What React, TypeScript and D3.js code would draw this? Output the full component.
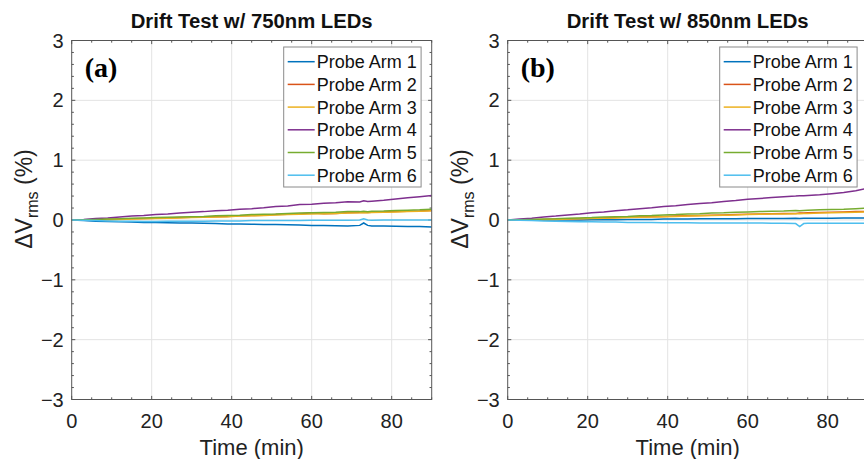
import { useEffect, useRef } from "react";
import * as d3 from "d3";

const times = [0, 3, 6, 9, 12, 15, 18, 21, 24, 27, 30, 33, 36, 39, 42, 45, 48, 51, 54, 57, 60, 63, 66, 69, 72, 73, 74, 75, 78, 81, 84, 87, 90];

const seriesNames = ["Probe Arm 1", "Probe Arm 2", "Probe Arm 3", "Probe Arm 4", "Probe Arm 5", "Probe Arm 6"];
const seriesColors = ["#0072BD", "#D95319", "#EDB120", "#7E2F8E", "#77AC30", "#4DBEEE"];

// 750nm LEDs
const arm1_750 = [0, -0.01, -0.02, -0.025, -0.03, -0.035, -0.04, -0.04, -0.045, -0.05, -0.05, -0.055, -0.06, -0.065, -0.065, -0.07, -0.075, -0.075, -0.08, -0.085, -0.09, -0.09, -0.095, -0.1, -0.09, -0.05, -0.09, -0.1, -0.1, -0.105, -0.11, -0.11, -0.115];
const arm2_750 = [0, 0, 0.005, 0.01, 0.015, 0.02, 0.025, 0.03, 0.035, 0.04, 0.045, 0.05, 0.055, 0.06, 0.07, 0.075, 0.08, 0.09, 0.095, 0.1, 0.12, 0.105, 0.11, 0.12, 0.125, 0.13, 0.125, 0.13, 0.135, 0.14, 0.145, 0.15, 0.16];
const arm3_750 = [0, 0, 0, 0.005, 0.01, 0.015, 0.02, 0.025, 0.03, 0.035, 0.04, 0.045, 0.05, 0.055, 0.065, 0.07, 0.075, 0.085, 0.09, 0.095, 0.1, 0.105, 0.11, 0.115, 0.12, 0.125, 0.12, 0.125, 0.13, 0.135, 0.14, 0.145, 0.155];
const arm4_750 = [0, 0.01, 0.025, 0.035, 0.05, 0.065, 0.075, 0.09, 0.1, 0.115, 0.13, 0.14, 0.155, 0.165, 0.18, 0.19, 0.205, 0.225, 0.235, 0.26, 0.265, 0.28, 0.29, 0.305, 0.3, 0.32, 0.31, 0.315, 0.33, 0.35, 0.37, 0.39, 0.41];
const arm5_750 = [0, 0.005, 0.01, 0.015, 0.02, 0.03, 0.035, 0.04, 0.045, 0.05, 0.055, 0.06, 0.07, 0.075, 0.08, 0.09, 0.095, 0.1, 0.11, 0.115, 0.12, 0.125, 0.13, 0.14, 0.14, 0.145, 0.14, 0.145, 0.15, 0.16, 0.165, 0.17, 0.18];
const arm6_750 = [0, -0.005, -0.01, -0.015, -0.02, -0.02, -0.025, -0.025, -0.02, -0.02, -0.02, -0.02, -0.015, -0.015, -0.015, -0.01, -0.01, -0.01, -0.01, -0.01, -0.005, -0.005, -0.005, -0.005, 0, 0.02, 0, -0.005, 0, 0, 0, 0, 0];

// 850nm LEDs
const arm1_850 = [0, 0, -0.005, -0.005, 0, 0, 0, 0.005, 0.005, 0.005, 0.01, 0.01, 0.01, 0.015, 0.015, 0.015, 0.02, 0.02, 0.02, 0.02, 0.025, 0.025, 0.025, 0.025, 0.03, 0.025, 0.03, 0.03, 0.03, 0.03, 0.035, 0.035, 0.035];
const arm2_850 = [0, 0, 0.005, 0.01, 0.015, 0.02, 0.025, 0.03, 0.035, 0.04, 0.045, 0.05, 0.055, 0.06, 0.065, 0.07, 0.075, 0.08, 0.085, 0.09, 0.095, 0.1, 0.105, 0.11, 0.11, 0.115, 0.115, 0.12, 0.125, 0.13, 0.135, 0.14, 0.145];
const arm3_850 = [0, 0, 0.005, 0.005, 0.01, 0.015, 0.02, 0.025, 0.03, 0.035, 0.04, 0.045, 0.05, 0.055, 0.06, 0.065, 0.07, 0.075, 0.08, 0.085, 0.09, 0.095, 0.1, 0.1, 0.105, 0.105, 0.11, 0.11, 0.115, 0.12, 0.125, 0.13, 0.135];
const arm4_850 = [0, 0.015, 0.03, 0.05, 0.065, 0.085, 0.1, 0.12, 0.135, 0.155, 0.17, 0.19, 0.205, 0.225, 0.24, 0.26, 0.275, 0.29, 0.31, 0.325, 0.345, 0.36, 0.375, 0.39, 0.4, 0.405, 0.405, 0.41, 0.42, 0.44, 0.46, 0.49, 0.53];
const arm5_850 = [0, 0.005, 0.01, 0.015, 0.02, 0.03, 0.035, 0.04, 0.05, 0.055, 0.06, 0.07, 0.075, 0.085, 0.09, 0.1, 0.105, 0.115, 0.12, 0.13, 0.135, 0.14, 0.145, 0.15, 0.16, 0.155, 0.16, 0.165, 0.17, 0.175, 0.18, 0.19, 0.2];
const arm6_850 = [0, -0.005, -0.01, -0.015, -0.02, -0.025, -0.03, -0.03, -0.035, -0.035, -0.04, -0.04, -0.04, -0.045, -0.045, -0.045, -0.05, -0.05, -0.05, -0.05, -0.05, -0.05, -0.055, -0.055, -0.06, -0.11, -0.06, -0.055, -0.055, -0.055, -0.055, -0.055, -0.055];

const xTicks = [0, 20, 40, 60, 80];
const yTicks = [-3, -2, -1, 0, 1, 2, 3];

const panels = [
  { title: "Drift Test w/ 750nm LEDs", tag: "(a)", left: 71.7, series: [arm1_750, arm2_750, arm3_750, arm4_750, arm5_750, arm6_750] },
  { title: "Drift Test w/ 850nm LEDs", tag: "(b)", left: 507.7, series: [arm1_850, arm2_850, arm3_850, arm4_850, arm5_850, arm6_850] },
];

const W = 864;
const H = 459;
const FONT = "'Liberation Sans', Arial, sans-serif";
const AXIS = "#555";

export default function App() {
  const svgRef = useRef<SVGSVGElement>(null);

  useEffect(() => {
    const svg = d3.select(svgRef.current);
    svg.selectAll("*").remove();

    const top = 40.5;
    const bottom = 399.5;
    const pw = 360;

    panels.forEach((p, pi) => {
      const x = d3.scaleLinear().domain([0, 90]).range([p.left, p.left + pw]);
      const y = d3.scaleLinear().domain([-3, 3]).range([bottom, top]);
      const g = svg.append("g");

      g.append("clipPath")
        .attr("id", "clip" + pi)
        .append("rect")
        .attr("x", p.left)
        .attr("y", top)
        .attr("width", pw)
        .attr("height", bottom - top);

      // grid
      g.selectAll(".gx")
        .data(xTicks.slice(1))
        .enter()
        .append("line")
        .attr("x1", (d) => x(d))
        .attr("x2", (d) => x(d))
        .attr("y1", top)
        .attr("y2", bottom)
        .attr("stroke", "#e3e3e3");
      g.selectAll(".gy")
        .data(yTicks.slice(1, -1))
        .enter()
        .append("line")
        .attr("x1", p.left)
        .attr("x2", p.left + pw)
        .attr("y1", (d) => y(d))
        .attr("y2", (d) => y(d))
        .attr("stroke", "#e3e3e3");

      // ticks (inside, all four sides)
      const tl = 3.6;
      const xMinor = d3.range(0, 91, 5);
      const yMinor = d3.range(-3, 3.001, 0.2);
      xMinor.forEach((t) => {
        const len = t % 20 === 0 ? tl : tl * 0.6;
        g.append("line").attr("x1", x(t)).attr("x2", x(t)).attr("y1", bottom).attr("y2", bottom - len).attr("stroke", AXIS);
        g.append("line").attr("x1", x(t)).attr("x2", x(t)).attr("y1", top).attr("y2", top + len).attr("stroke", AXIS);
      });
      yMinor.forEach((t) => {
        const major = Math.abs(t - Math.round(t)) < 1e-6;
        const len = major ? tl : tl * 0.6;
        g.append("line").attr("x1", p.left).attr("x2", p.left + len).attr("y1", y(t)).attr("y2", y(t)).attr("stroke", AXIS);
        g.append("line").attr("x1", p.left + pw).attr("x2", p.left + pw - len).attr("y1", y(t)).attr("y2", y(t)).attr("stroke", AXIS);
      });

      // lines
      const line = d3
        .line<number>()
        .x((_, i) => x(times[i]))
        .y((d) => y(d));
      const lg = g.append("g").attr("clip-path", `url(#clip${pi})`);
      p.series.forEach((s, si) => {
        lg.append("path")
          .attr("d", line(s))
          .attr("fill", "none")
          .attr("stroke", seriesColors[si])
          .attr("stroke-width", 1.5);
      });

      // frame
      g.append("rect")
        .attr("x", p.left)
        .attr("y", top)
        .attr("width", pw)
        .attr("height", bottom - top)
        .attr("fill", "none")
        .attr("stroke", AXIS);

      // tick labels
      g.selectAll(".xl")
        .data(xTicks)
        .enter()
        .append("text")
        .attr("x", (d) => x(d))
        .attr("y", 428)
        .attr("text-anchor", "middle")
        .attr("font-family", FONT)
        .attr("font-size", 20)
        .attr("fill", "#222")
        .text((d) => d);
      g.selectAll(".yl")
        .data(yTicks)
        .enter()
        .append("text")
        .attr("x", p.left - 8)
        .attr("y", (d) => y(d) + 7)
        .attr("text-anchor", "end")
        .attr("font-family", FONT)
        .attr("font-size", 20)
        .attr("fill", "#222")
        .text((d) => (d < 0 ? "\u2212" + Math.abs(d) : String(d)));

      // axis labels
      g.append("text")
        .attr("x", p.left + pw / 2)
        .attr("y", 455)
        .attr("text-anchor", "middle")
        .attr("font-family", FONT)
        .attr("font-size", 22)
        .attr("fill", "#222")
        .text("Time (min)");

      const yl = g
        .append("text")
        .attr("transform", `translate(${p.left - 39.7},199) rotate(-90)`)
        .attr("text-anchor", "middle")
        .attr("font-family", FONT)
        .attr("font-size", 23)
        .attr("fill", "#222");
      yl.append("tspan").text("\u0394V");
      yl.append("tspan").attr("font-size", 16).attr("dy", 6).text("rms");
      yl.append("tspan").attr("dy", -6).text(" (%)");

      // title
      g.append("text")
        .attr("x", p.left + pw / 2)
        .attr("y", 28)
        .attr("text-anchor", "middle")
        .attr("font-family", FONT)
        .attr("font-weight", "bold")
        .attr("font-size", 20.3)
        .attr("fill", "#111")
        .text(p.title);

      // panel tag
      g.append("text")
        .attr("x", p.left + 13)
        .attr("y", 77)
        .attr("font-family", "'Liberation Serif', 'Times New Roman', serif")
        .attr("font-weight", "bold")
        .attr("font-size", 28)
        .attr("fill", "#000")
        .text(p.tag);

      // legend
      const lx = p.left + pw - 148;
      const ly = 47;
      const leg = g.append("g");
      leg.append("rect")
        .attr("x", lx)
        .attr("y", ly)
        .attr("width", 137.4)
        .attr("height", 140)
        .attr("fill", "#fff")
        .attr("stroke", "#8a8a8a");
      seriesNames.forEach((name, i) => {
        const cy = ly + 14.7 + i * 22.7;
        leg.append("line")
          .attr("x1", lx + 4)
          .attr("x2", lx + 31)
          .attr("y1", cy)
          .attr("y2", cy)
          .attr("stroke", seriesColors[i])
          .attr("stroke-width", 1.5);
        leg.append("text")
          .attr("x", lx + 33)
          .attr("y", cy + 6.5)
          .attr("font-family", FONT)
          .attr("font-size", 18)
          .attr("fill", "#111")
          .text(name);
      });
    });
  }, []);

  return (
    <svg
      ref={svgRef}
      width={W}
      height={H}
      style={{ position: "absolute", left: 0, top: 0, background: "#fff" }}
    />
  );
}
